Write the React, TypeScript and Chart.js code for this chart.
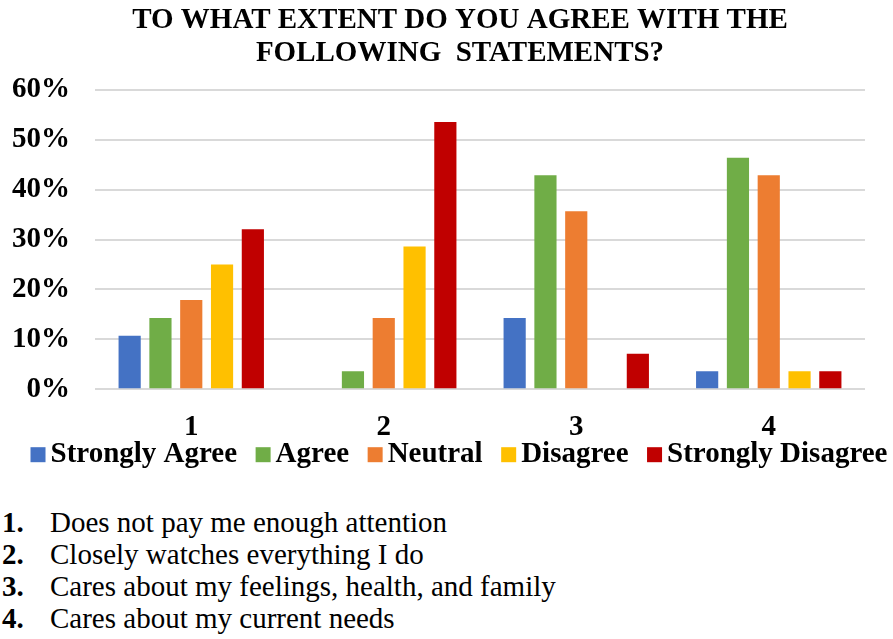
import React, { useEffect, useRef } from "react";
import { Chart, registerables } from "chart.js";

Chart.register(...registerables);

// Survey results: share of respondents (%) per statement and answer.
const categories = ["1", "2", "3", "4"];
const seriesNames = ["Strongly Agree", "Agree", "Neutral", "Disagree", "Strongly Disagree"];
const stronglyAgree = [10.7, 0, 14.3, 3.6];
const agree = [14.3, 3.6, 42.9, 46.4];
const neutral = [17.9, 14.3, 35.7, 42.9];
const disagree = [25.0, 28.6, 0, 3.6];
const stronglyDisagree = [32.1, 53.6, 7.1, 3.6];
const seriesColors = ["#4472C4", "#70AD47", "#ED7D31", "#FFC000", "#C00000"];
const yTicks = [0, 10, 20, 30, 40, 50, 60];

const titleLines = ["TO WHAT EXTENT DO YOU AGREE WITH THE", "FOLLOWING  STATEMENTS?"];
const statements = [
  "Does not pay me enough attention",
  "Closely watches everything I do",
  "Cares about my feelings, health, and family",
  "Cares about my current needs",
];

const SERIF = '"Liberation Serif", "Times New Roman", serif';
const FRAME_CENTER = 460;

const headingPlugin = {
  id: "heading",
  afterDraw(chart: any) {
    const ctx = chart.ctx;
    ctx.save();
    ctx.font = `bold 29px ${SERIF}`;
    ctx.fillStyle = "#000";
    ctx.textAlign = "center";
    ctx.textBaseline = "alphabetic";
    titleLines.forEach((line, i) => {
      ctx.fillText(line, FRAME_CENTER, 28 + i * 33);
    });
    ctx.restore();
  },
};

const BOX = 15;
const BOX_GAP = 5;
const ITEM_GAP = 18.5;

const legendPlugin = {
  id: "bottomLegend",
  afterDraw(chart: any) {
    const ctx = chart.ctx;
    ctx.save();
    ctx.font = `bold 29px ${SERIF}`;
    ctx.textAlign = "left";
    ctx.textBaseline = "alphabetic";
    const items = chart.data.datasets.map((ds: any) => ({
      text: ds.label as string,
      color: ds.backgroundColor as string,
      w: ctx.measureText(ds.label).width,
    }));
    const total =
      items.reduce((s: number, it: any) => s + BOX + BOX_GAP + it.w, 0) +
      ITEM_GAP * (items.length - 1);
    let x = FRAME_CENTER - 1 - total / 2;
    const baseline = chart.chartArea.bottom + 73;
    items.forEach((it: any) => {
      ctx.fillStyle = it.color;
      ctx.fillRect(x, baseline - BOX, BOX, BOX);
      ctx.fillStyle = "#000";
      ctx.fillText(it.text, x + BOX + BOX_GAP, baseline);
      x += BOX + BOX_GAP + it.w + ITEM_GAP;
    });
    ctx.restore();
  },
};

function SurveyChart() {
  const canvasRef = useRef<HTMLCanvasElement | null>(null);

  useEffect(() => {
    if (!canvasRef.current) return;
    const values = [stronglyAgree, agree, neutral, disagree, stronglyDisagree];
    const chart = new Chart(canvasRef.current, {
      type: "bar",
      data: {
        labels: categories,
        datasets: seriesNames.map((name, i) => ({
          label: name,
          data: values[i],
          backgroundColor: seriesColors[i],
          borderWidth: 0,
          categoryPercentage: 0.8,
          barPercentage: 0.72,
        })),
      },
      options: {
        animation: false,
        responsive: true,
        maintainAspectRatio: false,
        layout: { padding: { top: 90, left: 12, right: 28, bottom: 14 } },
        plugins: {
          legend: { display: false },
          title: { display: false },
          tooltip: { enabled: false },
        },
        scales: {
          x: {
            grid: { display: false, drawTicks: false },
            border: { display: false },
            ticks: {
              color: "#000",
              padding: 21,
              font: { family: SERIF, size: 29, weight: "bold" },
            },
          },
          y: {
            min: 0,
            max: 60,
            afterBuildTicks: (axis: any) => {
              axis.ticks = yTicks.map((v) => ({ value: v }));
            },
            afterFit: (axis: any) => {
              axis.width = 83;
            },
            grid: { color: "#d9d9d9", lineWidth: 2, drawTicks: false },
            border: { display: false },
            ticks: {
              color: "#000",
              padding: 25,
              font: { family: SERIF, size: 29, weight: "bold" },
              callback: (v: any) => `${v}%`,
            },
          },
        },
      },
      plugins: [headingPlugin, legendPlugin],
    });
    return () => chart.destroy();
  }, []);

  return (
    <div style={{ position: "absolute", left: 0, top: 0, width: 893, height: 480 }}>
      <canvas ref={canvasRef} />
    </div>
  );
}

export default function App() {
  return (
    <div
      style={{
        position: "absolute",
        left: 0,
        top: 0,
        width: 893,
        height: 639,
        background: "#fff",
        overflow: "hidden",
      }}
    >
      <SurveyChart />
      <div
        style={{
          position: "absolute",
          left: 2,
          top: 506,
          fontFamily: SERIF,
          fontSize: 29,
          lineHeight: "32px",
          color: "#000",
          whiteSpace: "nowrap",
        }}
      >
        {statements.map((s, i) => (
          <div key={i}>
            <span style={{ display: "inline-block", width: 48, fontWeight: "bold" }}>{i + 1}.</span>
            {s}
          </div>
        ))}
      </div>
    </div>
  );
}
